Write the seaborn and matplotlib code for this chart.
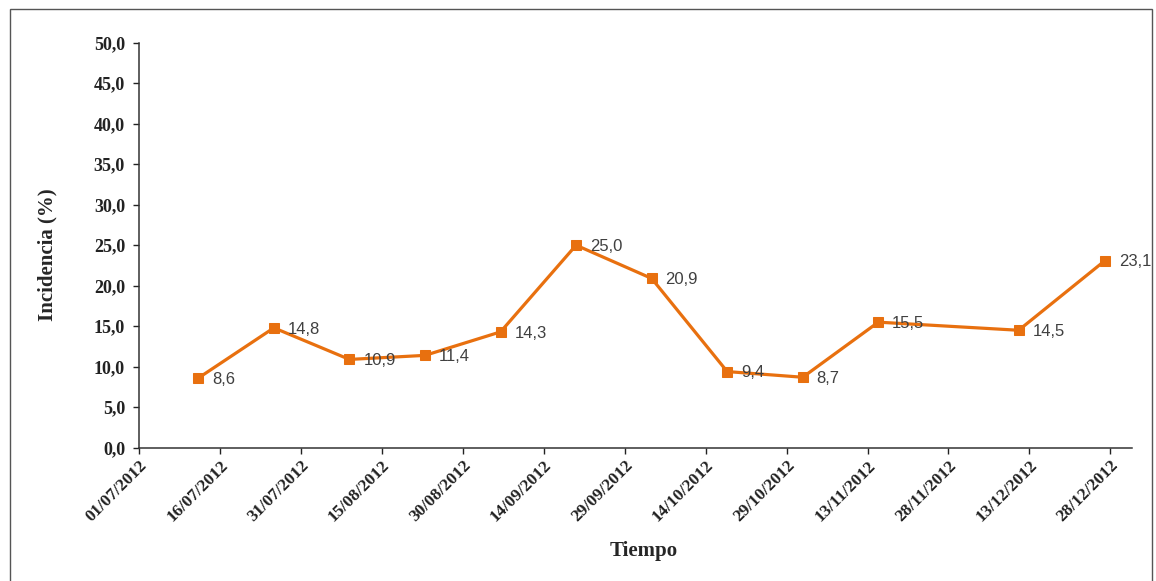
import matplotlib
matplotlib.use("Agg")
import matplotlib.pyplot as plt
import matplotlib.dates as mdates
from matplotlib.patches import Rectangle
import pandas as pd
import seaborn as sns

# Sampling dates and incidence values
fechas = ["2012-07-12", "2012-07-26", "2012-08-09", "2012-08-23", "2012-09-06",
          "2012-09-20", "2012-10-04", "2012-10-18", "2012-11-01", "2012-11-15",
          "2012-12-11", "2012-12-27"]
incidencia = [8.6, 14.8, 10.9, 11.4, 14.3, 25.0, 20.9, 9.4, 8.7, 15.5, 14.5, 23.1]

# Axis ticks: every 15 days from 1 July
tick_fechas = pd.date_range("2012-07-01", "2012-12-28", freq="15D")
y_ticks = [0, 5, 10, 15, 20, 25, 30, 35, 40, 45, 50]

df = pd.DataFrame({"Fecha": pd.to_datetime(fechas), "Incidencia": incidencia})

sns.set_style("ticks")
plt.rcParams["font.family"] = ["Liberation Serif", "DejaVu Serif"]

naranja = "#E8700F"

fig = plt.figure(figsize=(11.56, 5.81), dpi=100)
ax = fig.add_axes([0.1202, 0.2294, 0.8590, 0.6971])

sns.lineplot(data=df, x="Fecha", y="Incidencia", ax=ax, color=naranja,
             linewidth=2.3, marker="s", markersize=7, markeredgecolor=naranja,
             markerfacecolor=naranja)

for f, v in zip(df["Fecha"], df["Incidencia"]):
    ax.annotate(f"{v:.1f}".replace(".", ","), (f, v), xytext=(10, -1),
                textcoords="offset points", ha="left", va="center",
                fontsize=12, color="#404040", family="Liberation Sans")

ax.set_xlim(pd.Timestamp("2012-07-01"), pd.Timestamp("2013-01-01"))
ax.set_ylim(0, 50)
ax.set_xticks(tick_fechas)
ax.xaxis.set_major_formatter(mdates.DateFormatter("%d/%m/%Y"))
ax.set_yticks(y_ticks)
ax.set_yticklabels([f"{t:.1f}".replace(".", ",") for t in y_ticks])

for lab in ax.get_xticklabels():
    lab.set_rotation(45)
    lab.set_ha("right")
    lab.set_va("top")
    lab.set_rotation_mode("anchor")
    lab.set_fontweight("bold")
    lab.set_fontsize(12.5)
for lab in ax.get_yticklabels():
    lab.set_fontweight("bold")
    lab.set_fontsize(13)

ax.tick_params(axis="both", direction="out", length=4, width=1, colors="#222222")
ax.tick_params(axis="x", pad=3)
ax.tick_params(axis="y", pad=6)
for s in ["left", "bottom"]:
    ax.spines[s].set_color("#333333")
    ax.spines[s].set_linewidth(1.1)
sns.despine(ax=ax)

ax.set_xlabel("")
ax.set_ylabel("")
fig.text(0.557, 0.052, "Tiempo", ha="center", va="center", fontsize=15,
         fontweight="bold")
fig.text(0.041, 0.561, "Incidencia (%)", ha="center", va="center", rotation=90,
         fontsize=15, fontweight="bold")

# Outer frame around the chart
fig.patches.append(Rectangle((10 / 1156, -0.01), (1152 - 10) / 1156, 1 - 9 / 581 + 0.01,
                             transform=fig.transFigure, fill=False,
                             edgecolor="#555555", linewidth=1.0))

fig.savefig("out.png", dpi=100)
